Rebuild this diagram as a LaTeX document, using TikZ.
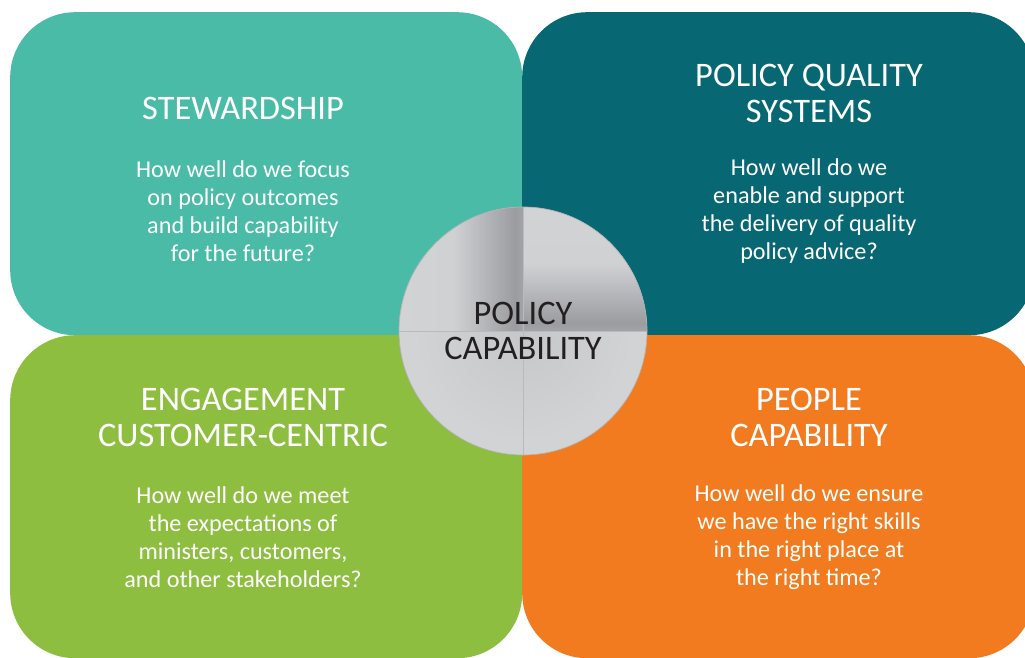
\documentclass[tikz,border=0pt]{standalone}
\usepackage{fontspec}
\setmainfont{Carlito}
\usepackage{tikz}
\usetikzlibrary{positioning}
\definecolor{stewcol}{HTML}{4ABBA7}
\definecolor{qualcol}{HTML}{076773}
\definecolor{engcol}{HTML}{8DBE3F}
\definecolor{peopcol}{HTML}{F27B20}
\definecolor{hubcol}{HTML}{D2D3D5}
\definecolor{hubdark}{HTML}{9B9CA0}
\definecolor{hubtext}{HTML}{231F20}
\pgfdeclarehorizontalshading{hubright}{100bp}{color(0bp)=(hubcol); color(25bp)=(hubcol); color(47bp)=(hubcol!96!hubdark); color(72bp)=(hubdark); color(75bp)=(hubdark!85!hubcol); color(100bp)=(hubdark!85!hubcol)}
\pgfdeclareverticalshading{hubbottom}{100bp}{color(0bp)=(hubdark!85!hubcol); color(25bp)=(hubdark!85!hubcol); color(28bp)=(hubdark); color(52bp)=(hubcol!96!hubdark); color(75bp)=(hubcol); color(100bp)=(hubcol)}

\begin{document}
\begin{tikzpicture}
			[x=1pt, y=-1pt,
			tile/.style={rectangle, rounded corners=65pt, minimum width=512pt, minimum height=323pt, anchor=north west, inner sep=0pt},
			heading/.style={text=white, align=center, inner sep=0pt, font=\fontsize{34.4}{36}\selectfont},
			question/.style={text=white, align=center, inner sep=0pt, font=\fontsize{24.2}{28}\selectfont}]
		\useasboundingbox (0,0) rectangle (1025,657);
		% tiles %
		\node[tile, fill=stewcol] (stew) at (10,12) {};
		\node[tile, fill=qualcol] (qual) at (522,12) {};
		\node[tile, fill=engcol] (eng) at (10,335) {};
		\node[tile, fill=peopcol] (peop) at (522,335) {};

		% texts %
		\node[heading] (stewtitle) at (243,108) {STEWARDSHIP};
		\node[question] (stewtext) at (243,211) {How well do we focus\\on policy outcomes\\and build capability\\for the future?};
		\node[heading] (qualtitle) at (809,93) {POLICY QUALITY\\SYSTEMS};
		\node[question] (qualtext) at (809,211) {How well do we\\enable and support\\the delivery of quality\\policy advice?};
		\node[heading] (engtitle) at (243,417) {ENGAGEMENT\\CUSTOMER-CENTRIC};
		\node[question] (engtext) at (243,537) {How well do we meet\\the expectations of\\ministers, customers,\\and other stakeholders?};
		\node[heading] (peoptitle) at (809,417) {PEOPLE\\CAPABILITY};
		\node[question] (peoptext) at (809,537) {How well do we ensure\\we have the right skills\\in the right place at\\the right time?};

		% hub %
		\node[circle, fill=hubcol, minimum size=248pt, inner sep=0pt] (hub) at (523,331) {};
		\begin{scope}
			\clip (hub.center) circle (124pt);
			\shade[shading=hubright] (399,207) rectangle (523,331);
			\shade[shading=hubbottom] (523,207) rectangle (647,331);
			\begin{scope}
				\clip (399,331) rectangle (647,455);
				\shade[inner color=hubcol!78!hubdark, outer color=hubcol] (523,331) circle (110pt);
			\end{scope}
		\end{scope}
		\draw[hubcol!55!hubdark, line width=0.7pt] (hub.north) -- (hub.south);
		\draw[hubcol!55!hubdark, line width=0.7pt] (hub.west) -- (hub.east);
		\draw[hubcol!40!hubdark, line width=0.7pt] (hub.center) circle (124pt);
		\node[text=hubtext, align=center, inner sep=0pt, font=\fontsize{34.4}{35}\selectfont] (hubtext) at (hub.center) {POLICY\\CAPABILITY};
		\end{tikzpicture}
\end{document}
